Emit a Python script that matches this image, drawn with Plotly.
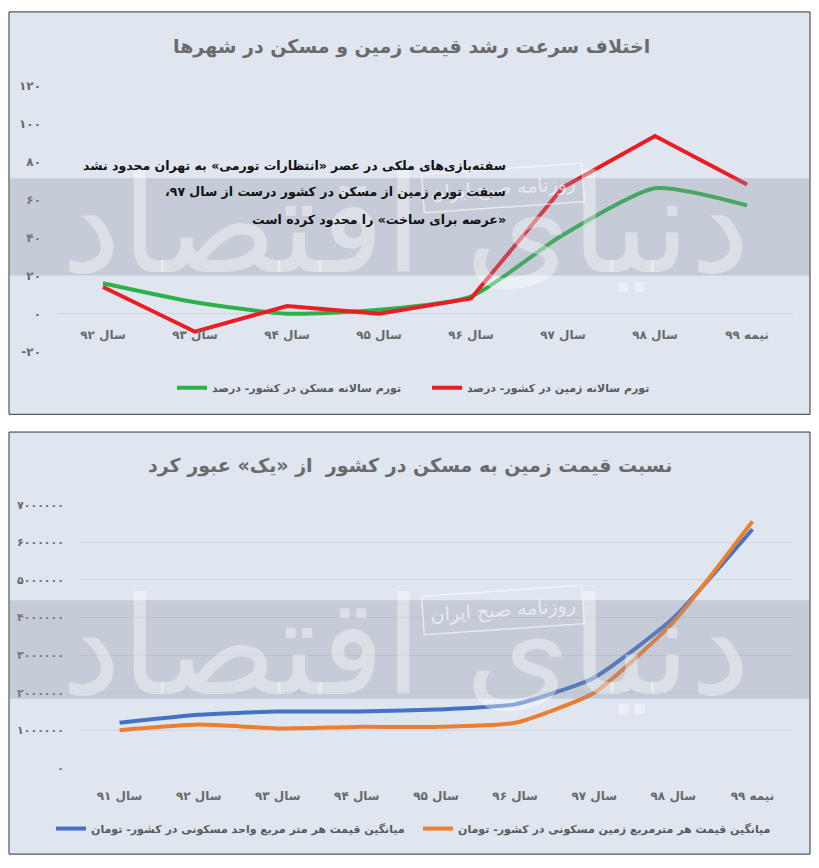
import plotly.graph_objects as go

# ---------------- data ----------------
top_categories = ["سال ۹۲", "سال ۹۳", "سال ۹۴", "سال ۹۵", "سال ۹۶", "سال ۹۷", "سال ۹۸", "نیمه ۹۹"]
land_inflation = [14, -9.5, 4, 0, 8, 66.5, 93.5, 68]
housing_inflation = [16, 6, 0, 2, 9, 41.5, 66, 57]
top_tick_vals = [-20, 0, 20, 40, 60, 80, 100, 120]
top_tick_text = ["-۲۰", "۰", "۲۰", "۴۰", "۶۰", "۸۰", "۱۰۰", "۱۲۰"]

bottom_categories = ["سال ۹۱", "سال ۹۲", "سال ۹۳", "سال ۹۴", "سال ۹۵", "سال ۹۶", "سال ۹۷", "سال ۹۸", "نیمه ۹۹"]
housing_price = [1200000, 1410000, 1500000, 1500000, 1550000, 1690000, 2400000, 3990000, 6350000]
land_price = [1000000, 1150000, 1050000, 1090000, 1090000, 1200000, 2000000, 3880000, 6560000]
bottom_tick_vals = [0, 1000000, 2000000, 3000000, 4000000, 5000000, 6000000, 7000000]
bottom_tick_text = ["۰", "۱۰۰۰۰۰۰", "۲۰۰۰۰۰۰", "۳۰۰۰۰۰۰", "۴۰۰۰۰۰۰", "۵۰۰۰۰۰۰", "۶۰۰۰۰۰۰", "۷۰۰۰۰۰۰"]

RLM = "\u200f"
title_top = "اختلاف سرعت رشد قیمت زمین و مسکن در شهرها"
title_bottom = "نسبت قیمت زمین به مسکن در کشور  از «یک» عبور کرد"
note_lines = [
    "سفته‌بازی‌های ملکی در عصر «انتظارات تورمی» به تهران محدود نشد",
    "سبقت تورم زمین از مسکن در کشور درست از سال ۹۷،",
    "«عرصه برای ساخت» را محدود کرده است",
]

W, H = 819, 868
FONT = "DejaVu Sans"


def px(x):
    return x / W


def py(y):
    return 1 - y / H


fig = go.Figure()

fig.add_trace(go.Scatter(
    x=top_categories, y=housing_inflation, mode="lines", name="تورم سالانه مسکن در کشور- درصد",
    line=dict(color="#2bb04a", width=4, shape="spline", smoothing=0.6),
    xaxis="x", yaxis="y", legend="legend"))
fig.add_trace(go.Scatter(
    x=top_categories, y=land_inflation, mode="lines", name="تورم سالانه زمین در کشور- درصد",
    line=dict(color="#ec1c24", width=4),
    xaxis="x", yaxis="y", legend="legend"))

fig.add_trace(go.Scatter(
    x=bottom_categories, y=housing_price, mode="lines",
    name="میانگین قیمت هر متر مربع واحد مسکونی در کشور- تومان",
    line=dict(color="#4472c4", width=4, shape="spline", smoothing=0.5),
    xaxis="x2", yaxis="y2", legend="legend2"))
fig.add_trace(go.Scatter(
    x=bottom_categories, y=land_price, mode="lines",
    name="میانگین قیمت هر مترمربع زمین مسکونی در کشور- تومان",
    line=dict(color="#ed7d31", width=4, shape="spline", smoothing=0.5),
    xaxis="x2", yaxis="y2", legend="legend2"))

tick_font = dict(family=FONT, size=12, color="#6a6a6a", weight="bold")
tick_font2 = dict(family=FONT, size=11, color="#6a6a6a", weight="bold")
cat_font = dict(family=FONT, size=12, color="#6a6a6a", weight="bold")

shapes = [
    # panels
    dict(type="rect", xref="paper", yref="paper", x0=px(9), x1=px(810), y0=py(414), y1=py(5),
         fillcolor="#dfe6f0", line=dict(color="#333333", width=1), layer="below"),
    dict(type="rect", xref="paper", yref="paper", x0=px(9), x1=px(810), y0=py(861), y1=py(432),
         fillcolor="#dfe6f0", line=dict(color="#333333", width=1), layer="below"),
    # watermark bands
    dict(type="rect", xref="paper", yref="paper", x0=px(10), x1=px(809), y0=py(273), y1=py(174),
         fillcolor="#8a939e", opacity=0.3, line=dict(width=0), layer="above"),
    dict(type="rect", xref="paper", yref="paper", x0=px(10), x1=px(809), y0=py(703), y1=py(603),
         fillcolor="#8a939e", opacity=0.3, line=dict(width=0), layer="above"),
]


def ann(text, x, y, font, xanchor="center", **kw):
    return dict(text=text, x=px(x), y=py(y), xref="paper", yref="paper", showarrow=False,
                xanchor=xanchor, yanchor="middle", font=font, **kw)


annotations = [
    ann(title_top, 411, 40, dict(family=FONT, size=19, color="#6b6b6b", weight="bold")),
    ann(title_bottom, 410, 466, dict(family=FONT, size=19, color="#6b6b6b", weight="bold")),
]

# watermarks
for dy in (0, 429):
    annotations.append(ann("دنیای اقتصاد", 405, 222 + dy,
                           dict(family=FONT, size=135, color="rgba(255,255,255,0.38)")))
    annotations.append(ann("روزنامه صبح ایران", 503, 184 + dy,
                           dict(family=FONT, size=19, color="rgba(255,255,255,0.6)"),
                           textangle=-4, borderwidth=1.5, borderpad=7,
                           bordercolor="rgba(255,255,255,0.6)"))

for i, line in enumerate(note_lines):
    annotations.append(ann(RLM + line + RLM, 508, 161 + 27.5 * i,
                           dict(family=FONT, size=12.5, color="#111111", weight="bold"), xanchor="right"))

legend_font = dict(family=FONT, size=11, color="#5a5a5a", weight="bold")

fig.update_layout(
    width=W, height=H,
    margin=dict(l=0, r=0, t=0, b=0),
    paper_bgcolor="white",
    plot_bgcolor="rgba(0,0,0,0)",
    font=dict(family=FONT),
    shapes=shapes,
    annotations=annotations,
    hovermode=False,
    xaxis=dict(domain=[px(57), px(793)], anchor="free", position=py(312), type="category",
               range=[-0.5, 7.5], showgrid=False, showline=False, ticks="", tickfont=cat_font,
               ticklabelstandoff=12, zeroline=False),
    yaxis=dict(domain=[py(350.3), py(80)], anchor="x", range=[-20, 120],
               tickvals=top_tick_vals, ticktext=top_tick_text, showgrid=False,
               zeroline=True, zerolinecolor="#cfd6e0", zerolinewidth=1,
               showline=False, ticks="", tickfont=tick_font, ticklabelstandoff=15),
    xaxis2=dict(domain=[px(80), px(792)], anchor="y2", type="category",
                range=[-0.5, 8.5], showgrid=False, showline=False, ticks="", tickfont=cat_font,
                ticklabelstandoff=19),
    yaxis2=dict(domain=[py(773.3), py(506)], anchor="x2", range=[0, 7000000],
                tickvals=bottom_tick_vals, ticktext=bottom_tick_text, showgrid=True,
                gridcolor="#cfd6e0", gridwidth=1, zeroline=False,
                showline=False, ticks="", tickfont=tick_font2, ticklabelstandoff=15),
    legend=dict(orientation="h", x=px(172), y=py(387), xanchor="left", yanchor="middle",
                bgcolor="rgba(0,0,0,0)", entrywidth=210, entrywidthmode="pixels",
                font=legend_font),
    legend2=dict(orientation="h", x=px(51), y=py(835), xanchor="left", yanchor="middle",
                 bgcolor="rgba(0,0,0,0)", entrywidth=322, entrywidthmode="pixels",
                 font=legend_font),
    showlegend=True,
)

fig.write_html("out.html",
               config={"displayModeBar": False},
               post_script="document.body.style.margin='0px';document.body.style.overflow='hidden';")
